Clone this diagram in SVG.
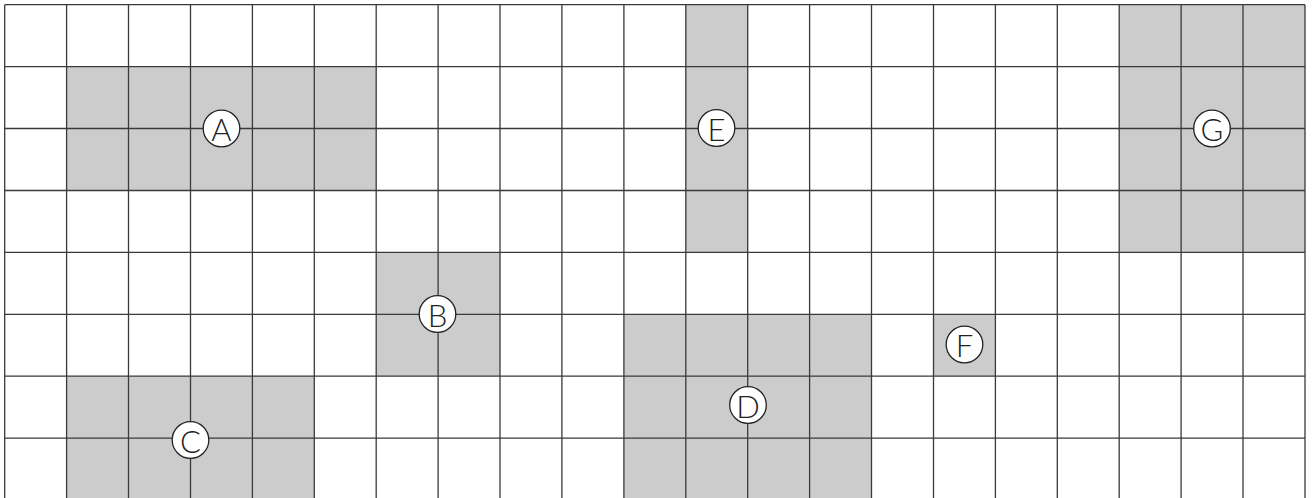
<svg xmlns="http://www.w3.org/2000/svg" width="1312" height="498" viewBox="0 0 1312 498">
<style>
.bg{fill:#ffffff}
.sh{fill:#cccccc}
.gl{stroke:#3a3a3a;stroke-width:1.3;fill:none}
.lc{fill:#ffffff;stroke:#222222;stroke-width:1.3}
.lt{font-family:Lato,"Open Sans","Liberation Sans",sans-serif;font-weight:300;font-size:31px;fill:#222222;text-anchor:middle;dominant-baseline:central}
</style>
<rect class="bg" x="0" y="0" width="1312" height="498"/>
<g id="regions">
<rect class="sh" x="66.6" y="66.6" width="309.6" height="123.8"/>
<rect class="sh" x="376.2" y="252.4" width="123.8" height="123.8"/>
<rect class="sh" x="66.6" y="376.2" width="247.7" height="130"/>
<rect class="sh" x="623.9" y="314.3" width="247.7" height="190"/>
<rect class="sh" x="685.8" y="4.7" width="61.9" height="247.7"/>
<rect class="sh" x="933.5" y="314.3" width="61.9" height="61.9"/>
<rect class="sh" x="1119.2" y="4.7" width="185.8" height="247.7"/>
</g>
<g id="connectors" class="gl">
<path d="M4.7 4.7V498M66.6 4.7V498M128.5 4.7V498M190.5 4.7V498M252.4 4.7V498M314.3 4.7V498M376.2 4.7V498M438.1 4.7V498M500 4.7V498M561.9 4.7V498M623.9 4.7V498M685.8 4.7V498M747.7 4.7V498M809.6 4.7V498M871.5 4.7V498M933.5 4.7V498M995.4 4.7V498M1057.3 4.7V498M1119.2 4.7V498M1181.1 4.7V498M1243 4.7V498M1305 4.7V498"/>
<path d="M4.7 4.7H1305M4.7 66.6H1305M4.7 128.5H1305M4.7 190.5H1305M4.7 252.4H1305M4.7 314.3H1305M4.7 376.2H1305M4.7 438.1H1305"/>
</g>
<g id="A"><circle class="lc" cx="221.5" cy="128.5" r="18.3"/><text class="lt" x="221.5" y="129">A</text></g>
<g id="B"><circle class="lc" cx="437.5" cy="314" r="18.3"/><text class="lt" x="437.5" y="314.5">B</text></g>
<g id="C"><circle class="lc" cx="190.5" cy="440" r="18.3"/><text class="lt" x="190.5" y="440.5">C</text></g>
<g id="D"><circle class="lc" cx="748" cy="405" r="18.3"/><text class="lt" x="748" y="405.5">D</text></g>
<g id="E"><circle class="lc" cx="716.5" cy="128" r="18.3"/><text class="lt" x="716.5" y="128.5">E</text></g>
<g id="F"><circle class="lc" cx="964.5" cy="344.5" r="18.3"/><text class="lt" x="964.5" y="345">F</text></g>
<g id="G"><circle class="lc" cx="1212" cy="128.5" r="18.3"/><text class="lt" x="1212" y="129">G</text></g>
</svg>
